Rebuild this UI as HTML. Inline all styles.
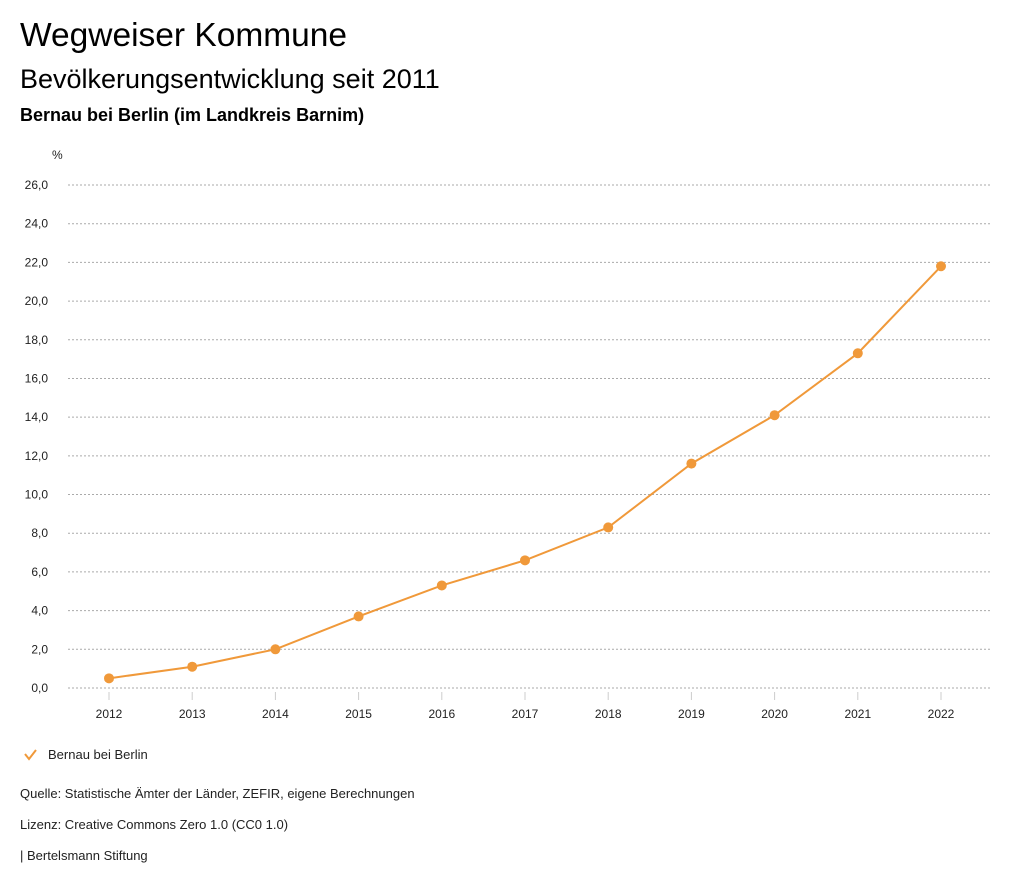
<!DOCTYPE html>
<html><head><meta charset="utf-8"><style>
body{margin:0;width:1024px;height:888px;background:#fff;font-family:"Liberation Sans",sans-serif;color:#000;overflow:hidden}
.t{position:absolute;left:20px;white-space:nowrap}
</style></head><body>
<div class="t" style="top:17px;font-size:33.5px">Wegweiser Kommune</div>
<div class="t" style="top:64px;font-size:27px">Bevölkerungsentwicklung seit 2011</div>
<div class="t" style="top:105px;font-size:18px;font-weight:bold">Bernau bei Berlin (im Landkreis Barnim)</div>
<svg id="c" width="1024" height="888" style="position:absolute;left:0;top:0"></svg>
<div class="t" style="top:786px;font-size:13px;color:#222">Quelle: Statistische Ämter der Länder, ZEFIR, eigene Berechnungen</div>
<div class="t" style="top:817px;font-size:13px;color:#222">Lizenz: Creative Commons Zero 1.0 (CC0 1.0)</div>
<div class="t" style="top:848px;font-size:13px;color:#222">| Bertelsmann Stiftung</div>
<script>
const years=["2012","2013","2014","2015","2016","2017","2018","2019","2020","2021","2022"];
const values=[0.5,1.1,2.0,3.7,5.3,6.6,8.3,11.6,14.1,17.3,21.8];
const yTicks=[0,2,4,6,8,10,12,14,16,18,20,22,24,26];
const seriesName="Bernau bei Berlin";
const NS="http://www.w3.org/2000/svg",svg=document.getElementById('c'),col="#f0993a";
const x=i=>109+i*83.2, y=v=>688-v*(503/26);
function el(t,a,p){const e=document.createElementNS(NS,t);for(const k in a)e.setAttribute(k,a[k]);(p||svg).appendChild(e);return e;}
const u=el('text',{x:52,y:159,'font-size':12,fill:'#222'});u.textContent='%';


yTicks.forEach(v=>{
 const g=el('line',{x1:68,x2:990,y1:y(v),y2:y(v),stroke:'#aaa','stroke-dasharray':'2,2','stroke-width':1});
 
 
 const t=el('text',{x:48,y:y(v)+4,'font-size':12,'text-anchor':'end',fill:'#222'});
 t.textContent=v.toFixed(1).replace('.',',');
 
 
});
years.forEach((yr,i)=>{
 const k=el('line',{x1:x(i),x2:x(i),y1:692,y2:700,stroke:'#ccc'});
 
 
 const t=el('text',{x:x(i),y:718,'font-size':12,'text-anchor':'middle',fill:'#222'});
 t.textContent=yr;
 
 
});
const pl=el('polyline',{points:values.map((v,i)=>x(i)+','+y(v)).join(' '),fill:'none',stroke:col,'stroke-width':2});


values.forEach((v,i)=>{
 const c=el('circle',{cx:x(i),cy:y(v),r:5,fill:col});
 
 
});
const lg=el('g',{});


el('polyline',{points:'25,754 29,759 36,750',fill:'none',stroke:col,'stroke-width':2},lg);
const lt=el('text',{x:48,y:759,'font-size':13,fill:'#222'},lg);lt.textContent=seriesName;
</script>
</body></html>
